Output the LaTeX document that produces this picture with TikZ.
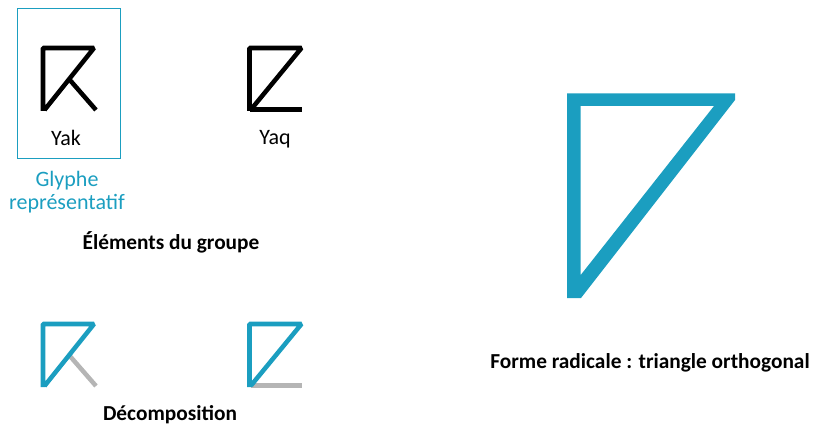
\documentclass[tikz,border=0pt]{standalone}
\usepackage{fontspec}
\setmainfont{Carlito}
\usetikzlibrary{positioning}
\definecolor{radblue}{HTML}{1B9EC0}
\definecolor{radgrey}{HTML}{B5B5B5}
\tikzset{
  glyphline/.style={line width=3.4pt, line join=bevel},
  glyphname/.style={font=\fontsize{16.5}{17.5}\selectfont},
  groupcaption/.style={font=\bfseries\fontsize{16}{18}\selectfont}
}

\begin{document}
\begin{tikzpicture}[x=0.75pt, y=-0.75pt]
  \useasboundingbox (0,0) rectangle (816,427);
  % elements du groupe
  \draw[radblue, line width=0.75pt] (17,8.5) rectangle (120,159);
  \draw[glyphline] (43,111) -- (43,48) -- (94,48) -- (44.5,110);
  \draw[glyphline] (69,79) -- (96,110);
  \node[glyphname] (yak) at (66,138) {Yak};
  \draw[glyphline] (249.5,111) -- (249.5,48) -- (301.5,48) -- (251,109.5);
  \draw[glyphline] (249.5,109.5) -- (302,109.5);
  \node[glyphname] (yaq) at (275,139) {Yaq};
  \node[glyphname, text=radblue, align=center] (repr) at (67,192) {Glyphe\\représentatif};
  \node[groupcaption] (groupe) at (171,242) {Éléments du groupe};

  % decomposition
  \draw[glyphline, radgrey] (69,355) -- (96,386);
  \draw[glyphline, radblue] (43,387) -- (43,324) -- (94,324) -- (44.5,386);
  \draw[glyphline, radgrey] (251,385.5) -- (302,385.5);
  \draw[glyphline, radblue] (249.5,387) -- (249.5,324) -- (301.5,324) -- (251,385.5);
  \node[groupcaption] (decomp) at (170,415) {Décomposition};

  % forme radicale
  \fill[radblue, even odd rule] (567,93.3) -- (735,93.3) -- (735,100) -- (581,298) -- (567,298) -- cycle
    (580.7,106) -- (714,106) -- (580.7,275) -- cycle;
  \node[groupcaption] (radicale) at (650,363) {Forme radicale : triangle orthogonal};
\end{tikzpicture}
\end{document}
